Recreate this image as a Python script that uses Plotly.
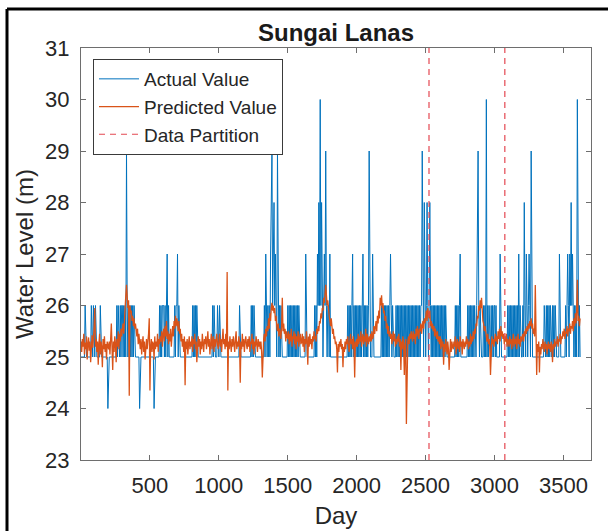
import plotly.graph_objects as go

day_first, day_step, day_last = 1, 5, 3621
days = list(range(day_first, day_last + 1, day_step))

# actual water level, one character per sample: '4'=24 m ... '9'=29 m, '0'=30 m
# (one line = 100 days)
actual_level_codes = (
    "55555565555555565565"  # 1-96
    "56555555655555555554"  # 101
    "55555555555565655656"  # 201
    "65656596565656565655"  # 301
    "55555455555555555555"  # 401
    "55555545555555656566"  # 501
    "65656756555555556566"  # 601
    "75655555555555555555"  # 701
    "55656565655555555555"  # 801
    "55555555555656555565"  # 901
    "56555555555555555555"  # 1001
    "55555555556555555555"  # 1101
    "55555556565655555555"  # 1201
    "55555565765656578967"  # 1301
    "86765965656555555555"  # 1401
    "65656565656565656555"  # 1501
    "55555575555555555556"  # 1601
    "56576860686567696566"  # 1701
    "57555555555555555555"  # 1801
    "55555556565656756565"  # 1901
    "65656565675656565695"  # 2001
    "55575555555555556565"  # 2101
    "65656565676565555656"  # 2201
    "56565656565656565656"  # 2301
    "56565656565656696586"  # 2401
    "56865686565656565656"  # 2501
    "56565656565555555555"  # 2601
    "55565656567555555555"  # 2701
    "56565656565655679656"  # 2801
    "55556565056565565656"  # 2901
    "65655555755555555556"  # 3001
    "56565656565656575655"  # 3101
    "56586576567659655555"  # 3201
    "55555555555565565656"  # 3301
    "56556565655555755555"  # 3401
    "55565676576867556565"  # 3501
    "06565"                 # 3601
)
level_of_code = {"4": 24, "5": 25, "6": 26, "7": 27, "8": 28, "9": 29, "0": 30}
actual = [level_of_code[c] for c in actual_level_codes]

# predicted water level, in centimetres above 25 m (one line = 100 days)
predicted_cm_above_25 = [
    30, 10, 35, 20, 45, 5, 28, 15, 40, -5, 25, 38, 12, 30, -10, 22, 42, 18, 35, 55,
    95, 20, 35, 10, 30, -15, 25, 45, 5, 30, 20, -20, 35, 15, 40, 10, 25, -5, 30, 20,
    15, 30, 5, 35, 65, 20, -25, 30, 10, 40, 25, -10, 35, 20, 50, 15, 45, 30, 55, 40,
    50, 65, 45, 80, 100, 120, 140, 115, 95, 110, -75, 100, 85, 90, 70, 80, 60, 75, 55, 65,
    50, 40, 55, 25, 45, 30, 15, 35, 5, 25, 40, 10, 30, -5, 20, 35, 15, 25, 45, 75,
    -65, 20, 35, 10, 30, 25, -5, 40, 15, 30, 20, 45, 10, 35, 25, 40, 30, 50, 20, 45,
    55, 30, 60, 40, 70, 35, 50, 25, 45, 30, 55, 20, 45, 60, 40, 70, 55, 80, 60, 75,
    65, 50, 70, 45, 55, 30, 45, 20, 35, 10, 40, -55, 30, 15, 35, 5, 25, 40, 15, 30,
    20, 40, 10, 35, 25, 45, 15, 30, -10, 25, 40, 20, 35, 5, 30, 15, 45, 25, 10, 35,
    25, 40, 15, 30, 50, 20, 35, 5, 30, 45, 15, 25, 40, 10, 35, 20, 30, 45, 25, 15,
    30, 45, 20, 35, 10, 40, 55, 25, 35, 15, 45, 20, 165, -65, 30, 15, 40, 25, 10, 35,
    20, 40, 25, 10, 35, 50, 15, 30, 20, 40, 25, -50, 30, 15, 45, 20, 35, 10, 30, 40,
    25, 15, 35, 20, 40, 10, 30, 25, 45, 15, 35, 5, 30, 20, 40, 25, 10, 35, 20, 30,
    15, 30, 10, -40, 25, 35, 45, 30, 55, 40, 60, 50, 75, 55, 85, 70, 95, 105, 90, 100,
    85, 95, 70, 80, 60, 50, 65, 40, 55, 45, 35, 60, 115, 50, 65, 45, 55, 30, 50, 40,
    35, 50, 25, 45, 30, 55, 20, 40, 35, 50, 25, 45, 15, 40, 30, 50, 20, 35, 45, 25,
    30, 45, 20, 40, 10, 35, 25, 50, 30, -15, 40, 20, 45, 25, 35, 15, 40, 30, 50, 35,
    40, 30, 55, 45, 60, 50, 70, 65, 85, 75, 95, 90, 115, 105, 130, 140, 120, 100, 110, 85,
    80, 70, 60, 75, 50, 45, 55, 35, 40, 25, 30, 15, -30, 25, 10, 30, 20, 35, 15, 25,
    -20, 20, 10, 30, 15, 35, 25, 40, 20, 10, 30, 45, 25, 35, 15, 40, 25, -40, 30, 20,
    35, 20, 45, 25, 40, 30, 50, 20, 35, 45, 25, 40, 30, 55, 20, 45, 35, 25, 40, 30,
    45, 30, 50, 35, 40, 60, 45, 55, 70, 50, 80, 65, 90, 75, 115, 100, 120, 95, 105, 85,
    90, 70, 80, 55, 65, 45, 60, 40, 50, 35, 45, 25, 40, 50, 30, 45, 20, 35, 25, 40,
    30, 45, 20, 35, -25, 30, 15, 40, 25, -35, 20, 35, -130, 20, 30, 40, 25, 45, 35, 50,
    40, 30, 50, 35, 45, 25, 55, 40, 60, 45, 35, 55, 50, 65, 45, 60, 70, 55, 75, 65,
    80, 90, 70, 95, 85, 75, 90, 60, 70, 55, 65, 50, 60, 40, 55, 45, 35, 50, 30, 40,
    25, 40, 15, 35, 20, 30, -15, 25, 10, 35, 20, 5, 30, 15, -25, 25, 35, 10, 30, 20,
    15, 30, 20, 40, 5, 25, 35, 15, 30, 10, 40, 20, 30, 5, 35, 25, 15, 30, 20, 40,
    25, 35, 15, 30, 20, 45, 25, 40, 30, 50, 35, 55, 45, 65, 60, 80, 75, 100, 90, 110,
    95, 115, 80, 70, 65, 50, 60, 45, 40, 30, 45, 25, 35, 20, -35, 30, 40, 25, 35, 20,
    35, 45, 30, 40, 25, 50, 35, 55, 30, 60, 40, 50, 35, 45, 25, 40, 30, 45, 20, 35,
    30, 20, 40, 25, 35, 15, 30, 45, 20, 35, 25, 40, 15, 30, 45, 25, 35, 20, 40, 30,
    35, 45, 30, 50, 40, 55, 45, 60, 50, 65, 55, 70, 60, 75, 55, 65, 45, 55, 40, 140,
    50, -35, 25, 10, 30, -30, 20, 5, 25, 15, 35, 20, 10, 30, 15, 25, 5, 20, 30, 15,
    25, 10, 30, 20, -10, 25, 15, 35, 20, 30, 25, 40, 20, 35, 30, 45, 25, 40, 35, 50,
    40, 55, 35, 50, 45, 60, 40, 55, 50, 65, 45, 60, 55, 70, 50, 75, 60, 85, 65, 90,
    150, 70, 80, 60, 75,
]
predicted = [25 + v / 100 for v in predicted_cm_above_25]

n = min(len(days), len(actual), len(predicted))
days, actual, predicted = days[:n], actual[:n], predicted[:n]

partition_days = [2525, 3075]

x_range = [1, 3700]
y_range = [23, 31]
x_ticks = [500, 1000, 1500, 2000, 2500, 3000, 3500]
y_ticks = [23, 24, 25, 26, 27, 28, 29, 30, 31]

# ---------------- figure ----------------
FONT = "Liberation Sans, Arial, Helvetica, sans-serif"
TXT = "#262626"
AX = "#6e6e6e"

fig = go.Figure()
fig.add_trace(go.Scatter(
    x=days, y=actual, mode="lines", name="Actual Value",
    line=dict(color="#0072BD", width=1), legendgroup="a",
))
fig.add_trace(go.Scatter(
    x=days, y=predicted, mode="lines", name="Predicted Value",
    line=dict(color="#D95319", width=1.3), legendgroup="p",
))
for i, d in enumerate(partition_days):
    fig.add_trace(go.Scatter(
        x=[d, d], y=y_range, mode="lines", name="Data Partition",
        line=dict(color="rgb(228,72,82)", width=1.2, dash="6px,5px"),
        legendgroup="d", showlegend=(i == 0),
    ))

W, H = 608, 531
L, R, T, B = 81, 17, 48, 71
pw, ph = W - L - R, H - T - B

def px_x(px):
    return (px - L) / pw

def px_y(py):
    return (H - B - py) / ph

fig.update_layout(
    width=W, height=H,
    margin=dict(l=L, r=R, t=T, b=B, pad=0, autoexpand=False),
    paper_bgcolor="white", plot_bgcolor="white",
    font=dict(family=FONT, size=19, color=TXT),
    title=dict(text="<b>Sungai Lanas</b>", xref="paper", x=0.5, xanchor="center",
               yref="container", y=1 - 33 / H, yanchor="middle",
               font=dict(size=24, color="#1a1a1a")),
    showlegend=True,
    legend=dict(
        x=px_x(93), y=px_y(59), xanchor="left", yanchor="top",
        bgcolor="white", bordercolor="#3a3a3a", borderwidth=1,
        font=dict(size=19, color=TXT), traceorder="grouped",
        tracegroupgap=0, itemwidth=40,
    ),
    xaxis=dict(
        range=x_range, tickvals=x_ticks, ticks="inside", ticklen=5,
        tickcolor=AX, linecolor=AX, linewidth=1, mirror="ticks",
        showgrid=False, zeroline=False, showline=True, automargin=False,
        tickfont=dict(size=22, color=TXT), ticklabelstandoff=6,
        title=dict(text="Day", font=dict(size=24, color=TXT), standoff=9),
    ),
    yaxis=dict(
        range=y_range, tickvals=y_ticks, ticks="inside", ticklen=5,
        tickcolor=AX, linecolor=AX, linewidth=1, mirror="ticks",
        showgrid=False, zeroline=False, showline=True, automargin=False,
        tickfont=dict(size=22, color=TXT), ticklabelstandoff=6,
        title=dict(text="Water Level (m)", font=dict(size=24, color=TXT), standoff=4),
    ),
    shapes=[
        dict(type="line", xref="paper", yref="paper",
             x0=px_x(7), x1=px_x(W + 2), y0=px_y(9), y1=px_y(9),
             line=dict(color="black", width=3)),
        dict(type="line", xref="paper", yref="paper",
             x0=px_x(7), x1=px_x(7), y0=px_y(9), y1=px_y(H + 2),
             line=dict(color="black", width=3)),
    ],
)

fig.write_html("out.html")
